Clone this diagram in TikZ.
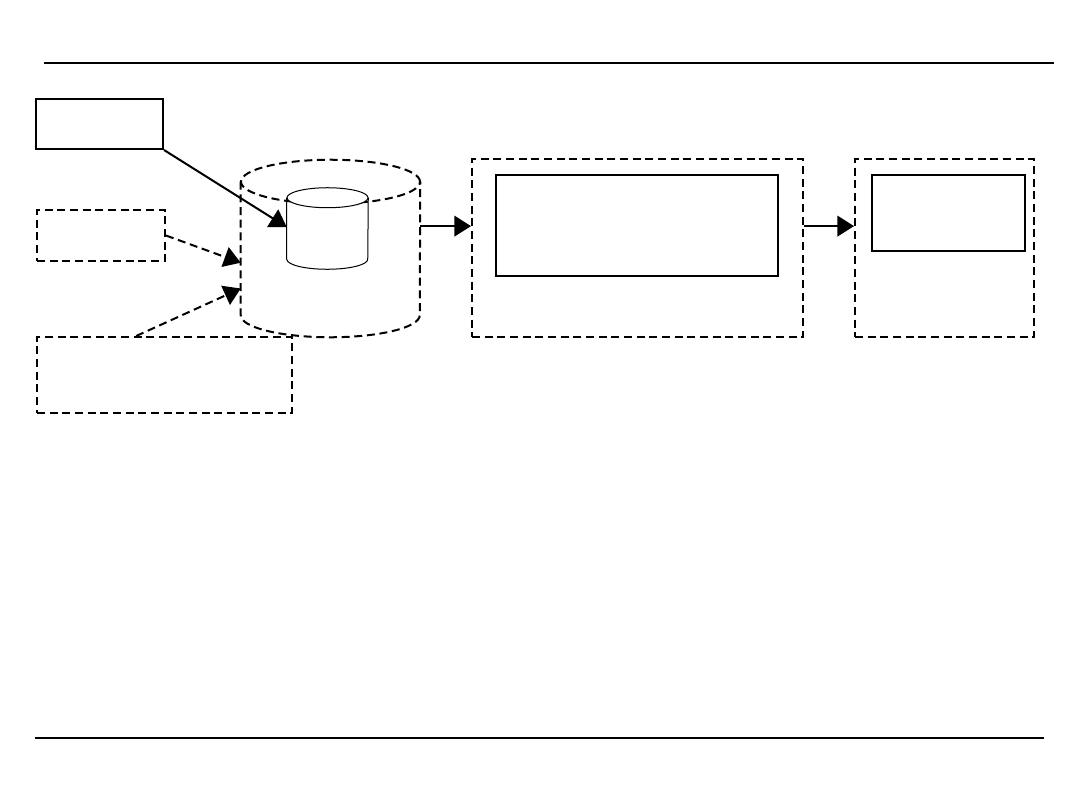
\documentclass[tikz,border=0pt]{standalone}
\usepackage{tikz}
\usetikzlibrary{arrows.meta,positioning,shapes.geometric}
\tikzset{
  solidbox/.style={draw,rectangle,line width=1.5pt,inner sep=0pt},
  dashbox/.style={solidbox,dash pattern=on 6pt off 3.5pt},
  dbframe/.style={rectangle,inner sep=0pt},
  bigline/.style={line width=1.5pt,dash pattern=on 6pt off 3.5pt},
  smallline/.style={line width=0.75pt},
  flow/.style={line width=1.5pt,-{Triangle[length=12.5pt,width=15.5pt]}},
  dashflow/.style={flow,dash pattern=on 6pt off 3.5pt},
  rule/.style={line width=1.6pt}
}
\begin{document}
\begin{tikzpicture}[x=0.75pt,y=-0.75pt]
    \useasboundingbox (0,0) rectangle (1080,810);
    % page rules
    \draw[rule] (44,63) -- (1054,63);
    \draw[rule] (35,738) -- (1044,738);
    % sources
    \node[solidbox,minimum width=95.25pt,minimum height=37.5pt] (srcA) at (99.5,124) {};
    \node[dashbox,minimum width=96pt,minimum height=38.25pt] (srcB) at (101,235.5) {};
    \node[dashbox,minimum width=191.25pt,minimum height=57pt] (srcC) at (164.5,375) {};
    % store (outer cylinder)
    \node[dbframe,minimum width=134.25pt,minimum height=132.75pt] (store) at (330.5,248.5) {};
    \draw[bigline] ([yshift=-16.5pt]store.north west) -- ([yshift=16.5pt]store.south west)
        arc[start angle=180,end angle=360,x radius=67.125pt,y radius=16.5pt]
        -- ([yshift=-16.5pt]store.north east);
    \draw[bigline] ([yshift=-16.5pt]store.north) ellipse[x radius=67.125pt,y radius=16.5pt];
    % table (inner cylinder)
    \node[dbframe,minimum width=60.75pt,minimum height=60.75pt] (table) at (327.5,228.5) {};
    \draw[smallline] ([yshift=-7.5pt]table.north west) -- ([yshift=7.5pt]table.south west)
        arc[start angle=180,end angle=360,x radius=30.375pt,y radius=7.5pt]
        -- ([yshift=-7.5pt]table.north east);
    \draw[smallline,fill=white] ([yshift=-7.5pt]table.north) ellipse[x radius=30.375pt,y radius=7.5pt];
    % processing
    \node[dashbox,minimum width=248.25pt,minimum height=133.5pt] (proc) at (637.5,248) {};
    \node[solidbox,minimum width=211.5pt,minimum height=75.75pt] (procIn) at (637,225.5) {};
    % output
    \node[dashbox,minimum width=134.25pt,minimum height=133.5pt] (out) at (944.5,248) {};
    \node[solidbox,minimum width=114.75pt,minimum height=57pt] (outIn) at (948.5,213) {};
    % connectors
    \draw[flow] (srcA.south east) -- (table.178);
    \draw[dashflow] (srcB.east) -- (store.189);
    \draw[dashflow] (srcC.126) -- (store.204);
    \draw[flow] (store.14) -- (store.14 -| proc.west);
    \draw[flow] (store.14 -| proc.east) -- (store.14 -| out.west);
\end{tikzpicture}
\end{document}
